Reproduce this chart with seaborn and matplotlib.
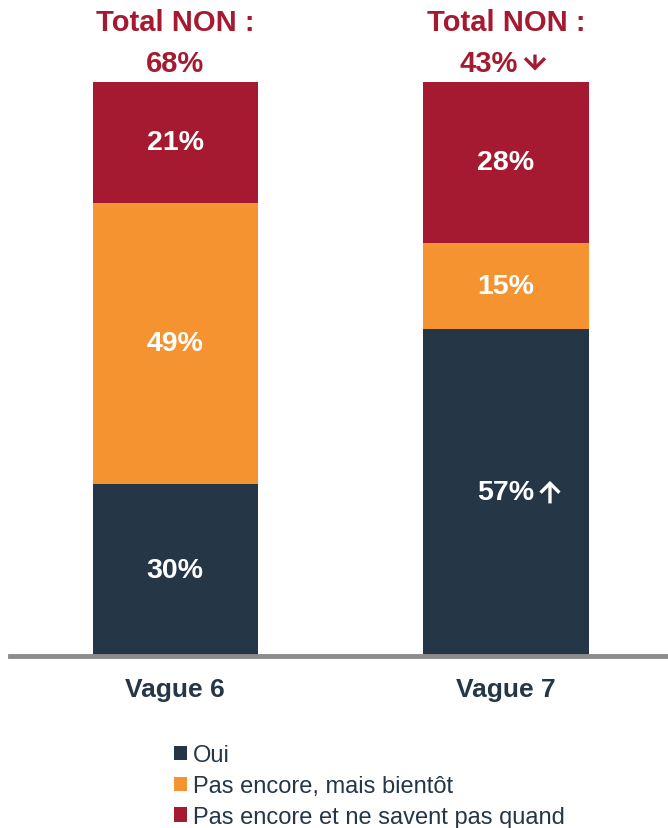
import seaborn as sns
import matplotlib.pyplot as plt
from matplotlib.patches import Patch
from matplotlib.transforms import offset_copy

vagues = ["Vague 6", "Vague 7"]
oui = [30, 57]
bientot = [49, 15]
pas_quand = [21, 28]
totaux_non = ["68%", "43%"]
baisse_non = [False, True]
hausse_oui = [False, True]
series = ["Oui", "Pas encore, mais bientôt", "Pas encore et ne savent pas quand"]

navy = "#253647"
orange = "#F59331"
rouge = "#A51A31"

sns.set_style("white")
plt.rcParams["font.family"] = ["Liberation Sans", "DejaVu Sans"]

fig = plt.figure(figsize=(6.68, 8.29), dpi=100)
ax = fig.add_axes([10 / 668, (829 - 657) / 829, 658 / 668, (657 - 83) / 829])

# stacked bars: draw cumulative totals back to front
haut1 = [o + b for o, b in zip(oui, bientot)]
haut2 = [h + p for h, p in zip(haut1, pas_quand)]
for h, c in [(haut2, rouge), (haut1, orange), (oui, navy)]:
    sns.barplot(x=vagues, y=h, color=c, saturation=1, width=0.5, linewidth=0, ax=ax)


def fleche(x, y, dx, y0, y1, couleur, hw):
    # arrow from y0 to y1 (pixel offsets from point x,y)
    a = offset_copy(ax.transData, fig=fig, x=dx, y=y0, units="dots")
    b = offset_copy(ax.transData, fig=fig, x=dx, y=y1, units="dots")
    ax.annotate("", xy=(x, y), xycoords=b, xytext=(x, y), textcoords=a,
                annotation_clip=False,
                arrowprops=dict(arrowstyle=f"->,head_length={hw},head_width={hw}",
                                mutation_scale=10, color=couleur, lw=2.4,
                                shrinkA=0, shrinkB=0, joinstyle="miter",
                                capstyle="butt"))


lab = dict(ha="center", va="center", color="white", fontsize=20.5, fontweight="bold")
tit = dict(ha="center", va="center", color=rouge, fontsize=21, fontweight="bold",
           annotation_clip=False)
for i in range(len(vagues)):
    ax.text(i, oui[i] / 2, f"{oui[i]}%", **lab)
    ax.text(i, oui[i] + bientot[i] / 2, f"{bientot[i]}%", **lab)
    ax.text(i, haut1[i] + pas_quand[i] / 2, f"{pas_quand[i]}%", **lab)
    if hausse_oui[i]:
        fleche(i, oui[i] / 2, 44, -11, 11.5, "white", 0.68)
    ax.annotate("Total NON :", (i, 110.45), xytext=(0, 0), textcoords="offset pixels", **tit)
    dx = -17 if baisse_non[i] else 0
    ax.annotate(totaux_non[i], (i, 103.3), xytext=(dx, 0), textcoords="offset pixels", **tit)
    if baisse_non[i]:
        fleche(i, 103.3, 29, 8.5, -7.5, rouge, 0.72)

ax.set_xlim(-0.5, 1.49)
ax.set_ylim(0, 100)
ax.set_yticks([])
ax.set_xlabel("")
ax.set_ylabel("")
for s in ["top", "right", "left"]:
    ax.spines[s].set_visible(False)
ax.spines["bottom"].set_color("#8C8C8C")
ax.spines["bottom"].set_linewidth(3.5)
ax.tick_params(axis="x", length=0, pad=15, labelsize=19, labelcolor=navy)
for t in ax.get_xticklabels():
    t.set_fontweight("bold")

handles = [Patch(facecolor=c, edgecolor="none") for c in [navy, orange, rouge]]
fig.legend(handles, series, loc="upper left", bbox_to_anchor=(174 / 668, 1 - 745 / 829),
           frameon=False, fontsize=17, labelcolor=navy, handlelength=0.55,
           handleheight=0.55, handletextpad=0.25, labelspacing=0.38, borderaxespad=0,
           borderpad=0)

fig.savefig("out.png", dpi=100)
